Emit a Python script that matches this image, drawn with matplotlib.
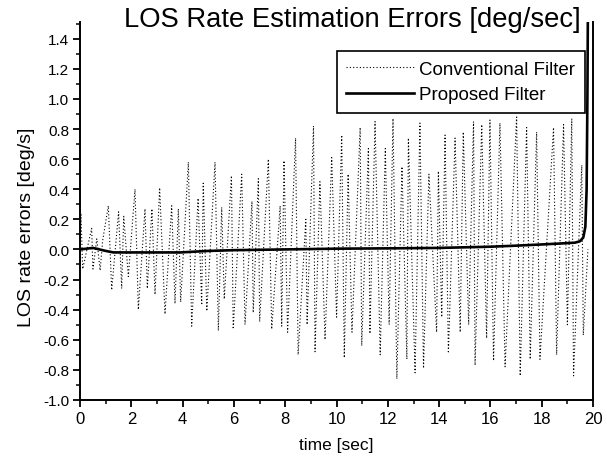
import matplotlib
matplotlib.use('Agg')
import matplotlib.pyplot as plt
from matplotlib.ticker import MultipleLocator

plt.rcParams['font.family'] = ['Liberation Sans', 'DejaVu Sans']

# conventional filter: swing peaks (time [s], error [deg/s])
conv_t = [0.0, 0.03, 0.10, 0.45, 0.50, 0.65, 0.78, 0.88, 1.10, 1.23,
          1.50, 1.62, 1.70, 1.88, 2.14, 2.27, 2.53, 2.62, 2.80, 2.92,
          3.10, 3.31, 3.57, 3.70, 3.83, 3.92, 4.22, 4.35, 4.60, 4.74,
          4.80, 4.94, 5.26, 5.39, 5.52, 5.62, 5.90, 5.97, 6.30, 6.43,
          6.70, 6.75, 6.95, 7.00, 7.34, 7.47, 7.80, 7.86, 7.95, 8.09,
          8.40, 8.50, 8.80, 8.85, 9.10, 9.16, 9.35, 9.55, 9.81, 10.00,
          10.20, 10.30, 10.45, 10.60, 10.92, 10.98, 11.24, 11.30, 11.50, 11.70,
          11.90, 12.05, 12.20, 12.35, 12.55, 12.74, 12.80, 13.06, 13.25, 13.39,
          13.60, 13.90, 13.97, 14.10, 14.23, 14.36, 14.62, 14.82, 14.94, 15.15,
          15.34, 15.40, 15.66, 15.85, 15.98, 16.12, 16.37, 16.57, 17.02, 17.16,
          17.41, 17.55, 17.80, 17.93, 18.46, 18.58, 18.85, 19.00, 19.17, 19.24,
          19.56, 19.62, 19.80]
conv_v = [0.00, 0.24, -0.13, 0.14, -0.13, 0.07, -0.14, 0.06, 0.29, -0.27,
          0.25, -0.26, 0.22, -0.18, 0.40, -0.40, 0.27, -0.26, 0.27, -0.30,
          0.41, -0.43, 0.29, -0.36, 0.27, -0.35, 0.58, -0.51, 0.34, -0.37,
          0.44, -0.41, 0.58, -0.54, 0.28, -0.33, 0.49, -0.53, 0.50, -0.50,
          0.32, -0.42, 0.47, -0.48, 0.60, -0.53, 0.29, -0.51, 0.59, -0.55,
          0.74, -0.70, 0.20, -0.50, 0.82, -0.68, 0.45, -0.60, 0.61, -0.45,
          0.76, -0.72, 0.50, -0.55, 0.81, -0.64, 0.67, -0.56, 0.85, -0.70,
          0.67, -0.50, 0.87, -0.86, 0.55, -0.73, 0.74, -0.82, 0.84, -0.79,
          0.50, -0.55, 0.52, -0.45, 0.76, -0.69, 0.74, -0.55, 0.78, -0.50,
          0.85, -0.77, 0.83, -0.59, 0.86, -0.74, 0.84, -0.78, 0.88, -0.84,
          0.81, -0.73, 0.78, -0.73, 0.81, -0.70, 0.83, -0.50, 0.87, -0.84,
          0.56, -0.57, 0.00]

# proposed filter
prop_t = [0.0, 0.5, 1.0, 1.3, 2.0, 3.0, 3.9, 5.0, 6.0, 8.0, 10.0, 12.0,
          14.0, 16.0, 17.0, 18.0, 18.8, 19.3, 19.5, 19.62, 19.7, 19.75, 19.78, 19.8]
prop_v = [0.0, 0.01, -0.01, -0.02, -0.02, -0.02, -0.02, -0.01, -0.005, 0.0, 0.005, 0.007,
          0.01, 0.018, 0.025, 0.033, 0.04, 0.045, 0.055, 0.08, 0.15, 0.4, 1.0, 1.6]

fig = plt.figure(figsize=(6.07, 4.64), dpi=100)
ax = fig.add_axes([0.132, 0.136, 0.845, 0.814])

ax.plot(conv_t, conv_v, color='black', lw=0.8, ls=(0, (1, 2)), label='Conventional Filter')
ax.plot(prop_t, prop_v, color='black', lw=1.9, label='Proposed Filter')

ax.set_xlim(0, 20)
ax.set_ylim(-1.0, 1.51)
ax.xaxis.set_major_locator(MultipleLocator(2))
ax.xaxis.set_minor_locator(MultipleLocator(1))
ax.yaxis.set_minor_locator(MultipleLocator(0.1))
ax.set_yticks([-1.0 + 0.2 * i for i in range(13)])
ax.set_yticklabels([f'{-1.0 + 0.2 * i:.1f}' for i in range(13)])
ax.tick_params(which='major', direction='out', length=5, width=1.3, labelsize=11, pad=3)
ax.tick_params(axis='x', which='major', labelsize=12)
ax.tick_params(which='minor', direction='out', length=3, width=1.1)
ax.spines['top'].set_visible(False)
for s in ['left', 'bottom', 'right']:
    ax.spines[s].set_linewidth(1.4)

ax.set_xlabel('time [sec]', fontsize=12.5, labelpad=8)
ax.set_ylabel('LOS rate errors [deg/s]', fontsize=14)
ax.yaxis.set_label_coords(-0.088, 0.46)

fig.text(0.58, 0.957, 'LOS Rate Estimation Errors [deg/sec]', fontsize=19.7,
         ha='center', va='center')

leg = ax.legend(loc='upper right', bbox_to_anchor=(0.984, 0.923), fontsize=13.5,
                handlelength=3.6, fancybox=False, framealpha=1, edgecolor='black',
                borderaxespad=0, handletextpad=0.3, labelspacing=0.45, borderpad=0.5)
leg.get_frame().set_linewidth(1.2)

fig.savefig('out.png', dpi=100)
